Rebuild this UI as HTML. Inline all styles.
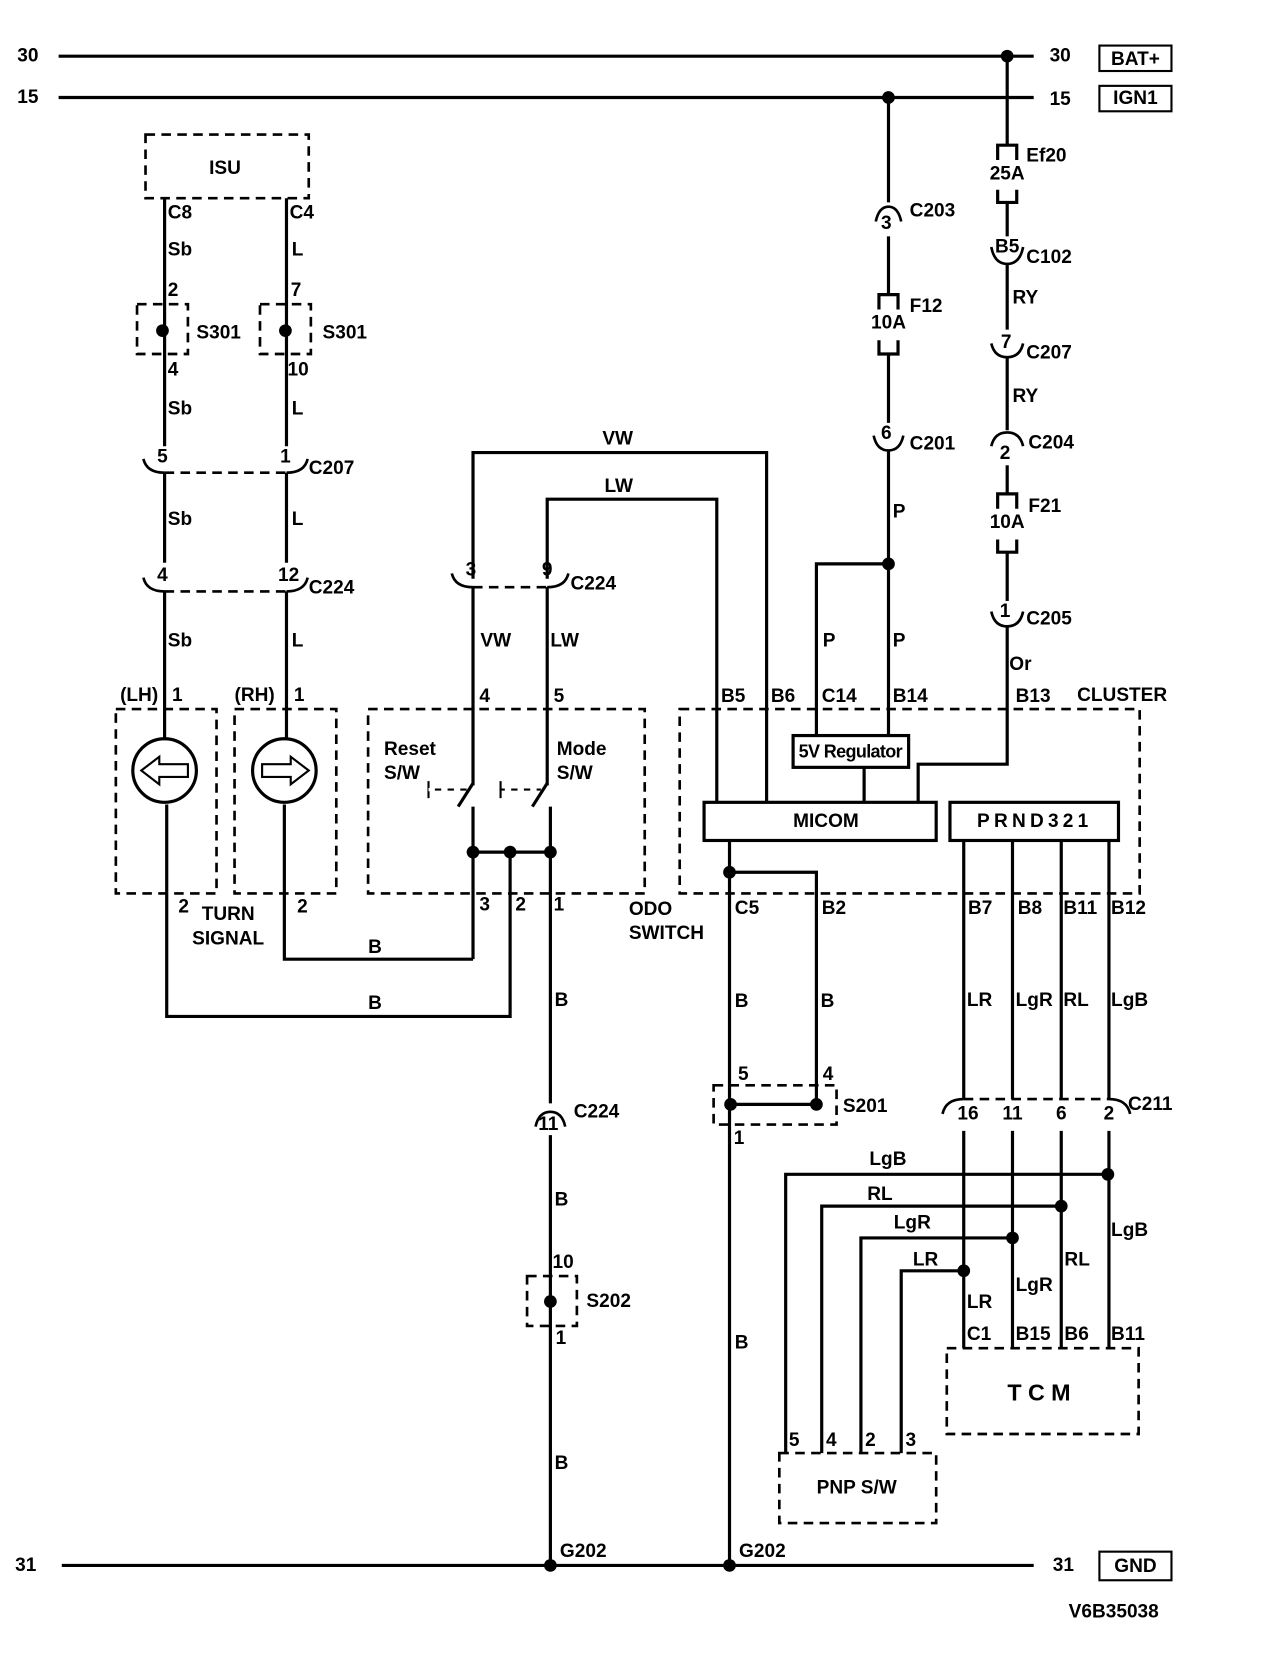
<!DOCTYPE html>
<html><head><meta charset="utf-8"><style>
html,body{margin:0;padding:0;background:#fff;}
svg{display:block;}
text{font-family:"Liberation Sans",Arial,sans-serif;font-weight:bold;font-size:18px;fill:#000;dominant-baseline:central;}
.w{stroke:#000;stroke-width:3;fill:none;}
.t{stroke:#000;stroke-width:2;fill:none;}
.d{stroke:#000;stroke-width:2.5;fill:none;stroke-dasharray:9,6;}
.c{stroke:#000;stroke-width:2.5;fill:none;}
</style></head><body>
<svg width="1264" height="1664" viewBox="0 0 1192 1570" xmlns="http://www.w3.org/2000/svg">
<g transform="translate(0,1)">
<!-- rails -->
<line class="w" x1="55" y1="52" x2="975" y2="52"/>
<line class="w" x1="55" y1="91" x2="975" y2="91"/>
<line class="w" x1="58" y1="1476" x2="975" y2="1476"/>
<text x="16" y="52">30</text><text x="16" y="91">15</text><text x="14" y="1476">31</text>
<text x="990" y="52">30</text><text x="990" y="93">15</text><text x="993" y="1476">31</text>
<rect x="1037" y="42" width="68" height="24" class="t"/><text x="1071" y="55" text-anchor="middle">BAT+</text>
<rect x="1037" y="80" width="68" height="24" class="t"/><text x="1071" y="92" text-anchor="middle">IGN1</text>
<rect x="1037" y="1463" width="68" height="27" class="t"/><text x="1071" y="1477" text-anchor="middle">GND</text>
<text x="1008" y="1520">V6B35038</text>
<circle cx="950" cy="52" r="6"/><circle cx="838" cy="91" r="6"/>

<!-- right column 950 -->
<polyline class="w" points="950,52 950,136"/>
<path class="w" d="M941,150 V136 H959 V150 M941,178 V190 H959 V178"/>
<text x="950" y="163" text-anchor="middle">25A</text><text x="968" y="146">Ef20</text>
<line class="w" x1="950" y1="190" x2="950" y2="222"/>
<text x="950" y="232" text-anchor="middle">B5</text>
<path class="c" d="M935,232 Q938,248 950,248 Q962,248 965,232"/>
<text x="968" y="242">C102</text>
<line class="w" x1="950" y1="248" x2="950" y2="310"/><text x="955" y="280">RY</text>
<text x="944" y="322">7</text>
<path class="c" d="M935,323 Q938,336 950,336 Q962,336 965,323"/>
<text x="968" y="332">C207</text>
<line class="w" x1="950" y1="336" x2="950" y2="405"/><text x="955" y="373">RY</text>
<path class="c" d="M935,420 Q938,407 950,407 Q962,407 965,420"/>
<text x="948" y="427" text-anchor="middle">2</text><text x="970" y="417">C204</text>
<line class="w" x1="950" y1="438" x2="950" y2="465"/>
<path class="w" d="M941,479 V465 H959 V479 M941,508 V520 H959 V508"/>
<text x="950" y="492" text-anchor="middle">10A</text><text x="970" y="477">F21</text>
<line class="w" x1="950" y1="520" x2="950" y2="566"/>
<text x="948" y="576" text-anchor="middle">1</text>
<path class="c" d="M935,576 Q938,590 950,590 Q962,590 965,576"/>
<text x="968" y="583">C205</text>
<polyline class="w" points="950,590 950,720 866,720 866,756"/>
<text x="952" y="626">Or</text>
<text x="958" y="656">B13</text>

<!-- column 838 -->
<line class="w" x1="838" y1="91" x2="838" y2="190"/>
<path class="c" d="M826,208 Q829,194 838,194 Q847,194 850,208"/>
<text x="836" y="210" text-anchor="middle">3</text><text x="858" y="198">C203</text>
<line class="w" x1="838" y1="222" x2="838" y2="277"/>
<path class="w" d="M829,291 V277 H847 V291 M829,320 V333 H847 V320"/>
<text x="838" y="304" text-anchor="middle">10A</text><text x="858" y="288">F12</text>
<line class="w" x1="838" y1="333" x2="838" y2="398"/>
<text x="836" y="408" text-anchor="middle">6</text>
<path class="c" d="M824,410 Q827,424 838,424 Q849,424 852,410"/>
<text x="858" y="418">C201</text>
<line class="w" x1="838" y1="424" x2="838" y2="693"/>
<circle cx="838" cy="531" r="6"/>
<polyline class="w" points="838,531 770,531 770,693"/>
<text x="842" y="482">P</text><text x="776" y="604">P</text><text x="842" y="604">P</text>
<rect x="748" y="693" width="109" height="30" class="w"/>
<text x="802" y="708" text-anchor="middle" style="font-size:17px;letter-spacing:-0.6px">5V Regulator</text>
<line class="w" x1="815" y1="723" x2="815" y2="756"/>

<!-- cluster -->
<rect x="641" y="668" width="434" height="174" class="d"/>
<text x="1016" y="655">CLUSTER</text>
<rect x="664" y="756" width="219" height="36" class="w"/>
<text x="779" y="774" text-anchor="middle">MICOM</text>
<rect x="896" y="756" width="159" height="36" class="w"/>
<text x="976" y="774" text-anchor="middle" style="letter-spacing:4px">PRND321</text>
<text x="680" y="656">B5</text><text x="727" y="656">B6</text><text x="775" y="656">C14</text><text x="842" y="656">B14</text>

<!-- VW / LW -->
<polyline class="w" points="446,545 446,426 723,426 723,756"/>
<polyline class="w" points="516,545 516,470 676,470 676,756"/>
<text x="568" y="413">VW</text><text x="570" y="458">LW</text>
<path class="c" d="M426,540 Q429,553 446,553"/>
<path class="c" d="M536,540 Q533,553 516,553"/>
<line class="d" x1="446" y1="553" x2="516" y2="553"/>
<text x="444" y="537" text-anchor="middle">3</text><text x="516" y="537" text-anchor="middle">9</text>
<text x="538" y="550">C224</text>
<line class="w" x1="446" y1="553" x2="446" y2="740"/>
<line class="w" x1="516" y1="553" x2="516" y2="740"/>
<text x="453" y="604">VW</text><text x="519" y="604">LW</text>
<text x="452" y="656">4</text><text x="522" y="656">5</text>

<!-- ODO switch -->
<rect x="347" y="668" width="261" height="174" class="d"/>
<text x="362" y="706">Reset</text><text x="362" y="729">S/W</text>
<text x="525" y="706">Mode</text><text x="525" y="729">S/W</text>
<line class="w" x1="446" y1="738" x2="432" y2="760"/>
<line class="w" x1="516" y1="738" x2="502" y2="760"/>
<path class="t" d="M404,736 V752 M404,744 H440"/>
<line x1="404" y1="744" x2="440" y2="744" stroke="#fff" stroke-width="3" stroke-dasharray="6,6"/>
<path class="t" d="M472,736 V752 M472,744 H510"/>
<line x1="472" y1="744" x2="510" y2="744" stroke="#fff" stroke-width="3" stroke-dasharray="6,6" stroke-dashoffset="-4"/>
<line class="w" x1="446" y1="760" x2="446" y2="904"/>
<line class="w" x1="519" y1="760" x2="519" y2="1040"/>
<line class="w" x1="446" y1="803" x2="519" y2="803"/>
<circle cx="446" cy="803" r="6"/><circle cx="481" cy="803" r="6"/><circle cx="519" cy="803" r="6"/>
<polyline class="w" points="481,803 481,958 157,958 157,758"/>
<polyline class="w" points="446,904 268,904 268,758"/>
<text x="452" y="853">3</text><text x="486" y="853">2</text><text x="522" y="853">1</text>
<text x="593" y="857">ODO</text><text x="593" y="880">SWITCH</text>
<text x="347" y="893">B</text><text x="347" y="946">B</text>
<text x="523" y="943">B</text>

<!-- left ISU -->
<rect x="137" y="126" width="154" height="60" class="d"/>
<text x="212" y="158" text-anchor="middle">ISU</text>
<line class="w" x1="155" y1="186" x2="155" y2="420"/>
<line class="w" x1="270" y1="186" x2="270" y2="420"/>
<text x="158" y="200">C8</text><text x="273" y="200">C4</text>
<text x="158" y="235">Sb</text><text x="275" y="235">L</text>
<text x="158" y="273">2</text><text x="274" y="273">7</text>
<rect x="129" y="286" width="48" height="47" class="d"/>
<rect x="245" y="286" width="48" height="47" class="d"/>
<circle cx="153" cy="311" r="6"/><circle cx="269" cy="311" r="6"/>
<text x="185" y="313">S301</text><text x="304" y="313">S301</text>
<text x="158" y="348">4</text><text x="271" y="348">10</text>
<text x="158" y="385">Sb</text><text x="275" y="385">L</text>
<!-- C207 -->
<text x="148" y="430">5</text><text x="264" y="430">1</text>
<path class="c" d="M135,432 Q138,445 155,445"/>
<path class="c" d="M290,432 Q287,445 270,445"/>
<line class="d" x1="155" y1="445" x2="270" y2="445"/>
<text x="291" y="441">C207</text>
<line class="w" x1="155" y1="445" x2="155" y2="530"/>
<line class="w" x1="270" y1="445" x2="270" y2="530"/>
<text x="158" y="489">Sb</text><text x="275" y="489">L</text>
<!-- C224 -->
<text x="148" y="542">4</text><text x="262" y="542">12</text>
<path class="c" d="M135,544 Q138,557 155,557"/>
<path class="c" d="M290,544 Q287,557 270,557"/>
<line class="d" x1="155" y1="557" x2="270" y2="557"/>
<text x="291" y="554">C224</text>
<line class="w" x1="155" y1="557" x2="155" y2="696"/>
<line class="w" x1="270" y1="557" x2="270" y2="696"/>
<text x="158" y="604">Sb</text><text x="275" y="604">L</text>
<text x="113" y="655">(LH)</text><text x="162" y="655">1</text>
<text x="221" y="655">(RH)</text><text x="277" y="655">1</text>
<rect x="109" y="668" width="95" height="174" class="d"/>
<rect x="221" y="668" width="96" height="174" class="d"/>
<circle cx="155" cy="726" r="30" class="w"/>
<circle cx="268" cy="726" r="30" class="w"/>
<polygon class="t" points="133,726 150,713 150,720 177,720 177,732 150,732 150,739"/>
<polygon class="t" points="291,726 274,713 274,720 247,720 247,732 274,732 274,739"/>
<text x="168" y="855">2</text><text x="280" y="855">2</text>
<text x="215" y="862" text-anchor="middle">TURN</text><text x="215" y="885" text-anchor="middle">SIGNAL</text>

<!-- ODO ground path -->
<path class="c" d="M505,1062 Q508,1048 519,1048 Q530,1048 533,1062"/>
<text x="517" y="1060" text-anchor="middle">11</text><text x="541" y="1048">C224</text>
<line class="w" x1="519" y1="1070" x2="519" y2="1476"/>
<text x="523" y="1131">B</text>
<text x="521" y="1190">10</text>
<rect x="497" y="1203" width="47" height="47" class="d"/>
<circle cx="519" cy="1227" r="6"/>
<text x="553" y="1227">S202</text><text x="524" y="1262">1</text>
<text x="523" y="1380">B</text>
<circle cx="519" cy="1476" r="6"/><text x="528" y="1463">G202</text>

<!-- C5 path -->
<line class="w" x1="688" y1="792" x2="688" y2="1476"/>
<circle cx="688" cy="822" r="6"/>
<polyline class="w" points="688,822 770,822 770,1041"/>
<text x="693" y="856">C5</text><text x="775" y="856">B2</text>
<text x="693" y="944">B</text><text x="774" y="944">B</text>
<rect x="673" y="1023" width="116" height="37" class="d"/>
<line class="w" x1="689" y1="1041" x2="770" y2="1041"/>
<circle cx="689" cy="1041" r="6"/><circle cx="770" cy="1041" r="6"/>
<text x="696" y="1013">5</text><text x="776" y="1013">4</text><text x="692" y="1073">1</text>
<text x="795" y="1043">S201</text>
<text x="693" y="1266">B</text>
<circle cx="688" cy="1476" r="6"/><text x="697" y="1463">G202</text>

<!-- PRND wires -->
<line class="w" x1="909" y1="792" x2="909" y2="1036"/>
<line class="w" x1="955" y1="792" x2="955" y2="1036"/>
<line class="w" x1="1001" y1="792" x2="1001" y2="1036"/>
<line class="w" x1="1046" y1="792" x2="1046" y2="1036"/>
<text x="913" y="856">B7</text><text x="960" y="856">B8</text><text x="1003" y="856">B11</text><text x="1048" y="856">B12</text>
<text x="912" y="943">LR</text><text x="958" y="943">LgR</text><text x="1003" y="943">RL</text><text x="1048" y="943">LgB</text>
<path class="c" d="M889,1050 Q892,1036 909,1036"/>
<path class="c" d="M1066,1050 Q1063,1036 1046,1036"/>
<line class="d" x1="909" y1="1036" x2="1046" y2="1036"/>
<text x="913" y="1050" text-anchor="middle">16</text><text x="955" y="1050" text-anchor="middle">11</text>
<text x="1001" y="1050" text-anchor="middle">6</text><text x="1046" y="1050" text-anchor="middle">2</text>
<text x="1064" y="1041">C211</text>
<line class="w" x1="909" y1="1066" x2="909" y2="1271"/>
<line class="w" x1="955" y1="1066" x2="955" y2="1271"/>
<line class="w" x1="1001" y1="1066" x2="1001" y2="1271"/>
<line class="w" x1="1046" y1="1066" x2="1046" y2="1271"/>
<polyline class="w" points="1045,1107 741,1107 741,1370"/>
<polyline class="w" points="1001,1137 775,1137 775,1370"/>
<polyline class="w" points="955,1167 812,1167 812,1370"/>
<polyline class="w" points="909,1198 850,1198 850,1370"/>
<circle cx="1045" cy="1107" r="6"/><circle cx="1001" cy="1137" r="6"/>
<circle cx="955" cy="1167" r="6"/><circle cx="909" cy="1198" r="6"/>
<text x="820" y="1093">LgB</text><text x="818" y="1126">RL</text><text x="843" y="1153">LgR</text><text x="861" y="1188">LR</text>
<text x="1048" y="1160">LgB</text><text x="1004" y="1188">RL</text><text x="958" y="1212">LgR</text><text x="912" y="1228">LR</text>
<text x="912" y="1258">C1</text><text x="958" y="1258">B15</text><text x="1004" y="1258">B6</text><text x="1048" y="1258">B11</text>
<rect x="893" y="1271" width="181" height="81" class="d"/>
<text x="983" y="1313" text-anchor="middle" style="font-size:22px;letter-spacing:6px">TCM</text>
<rect x="735" y="1370" width="148" height="66" class="d"/>
<text x="808" y="1403" text-anchor="middle">PNP S/W</text>
<text x="744" y="1358">5</text><text x="779" y="1358">4</text><text x="816" y="1358">2</text><text x="854" y="1358">3</text>
</g>
</svg>
</body></html>
